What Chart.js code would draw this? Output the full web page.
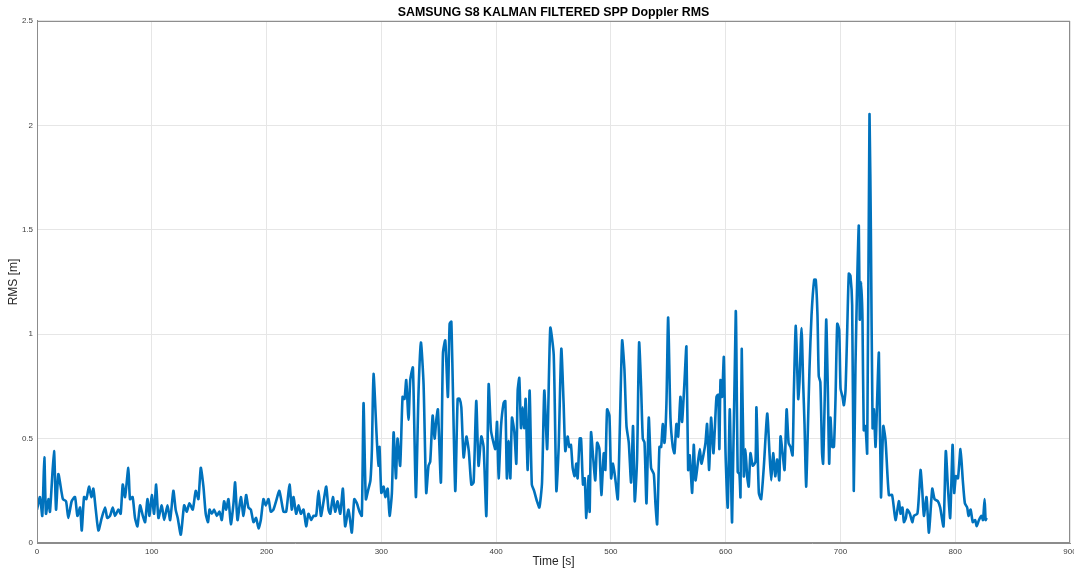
<!DOCTYPE html>
<html>
<head>
<meta charset="utf-8">
<script src="https://cdn.jsdelivr.net/npm/chart.js@4/dist/chart.umd.min.js"></script>
<style>
html,body{margin:0;padding:0;background:#fff;}
#wrap{width:1074px;height:571px;position:relative;}
</style>
</head>
<body>
<div id="wrap"><canvas id="c" width="1074" height="571"></canvas></div>
<script>
const chartTitle = "SAMSUNG S8 KALMAN FILTERED SPP Doppler RMS";
const xTitle = "Time [s]";
const yTitle = "RMS [m]";
const xTicks = [0,100,200,300,400,500,600,700,800,900];
const yTicks = [0,0.5,1,1.5,2,2.5];

const times = [
0,2.6,4.6,6.4,7.8,9.9,11.3,14.8,16.6,18.6,21.5,22.6,25.3,27.3,30.2,33.1,35.2,37.5,39,41,43,45.3,47.4,49.1,51.2,53.5,56.4,59.3,61.2,63.6,66,68,70.9,72.9,74.7,76.7,79.6,81,83.3,85.4,87.5,89.8,92.2,94.2,96.2,98,100,102,103.8,105.8,108.7,110.8,113.7,116,118.8,120.8,122.6,125.3,128.2,130.5,132.8,135.7,138.3,140.6,142.7,145,147,149,
150.3,152.3,154.3,156.7,159,161,163,164.8,166.8,168.9,171.2,172.6,174.7,177.6,179.9,182.2,184.2,186.3,188.6,190.9,193,195,197.3,199.3,201.7,203.7,206,208.3,211,212.7,214.8,217.1,220,222,223.5,225.8,227.9,229.9,232.2,234.5,236.5,238.9,240.9,243.2,245.3,247.4,249.7,252,254,255.5,257.8,259.8,261.9,264.2,266.5,268.5,271.4,274.3,276.4,278.7,281,283,284.5,286.5,288.8,290.5,291.8,293.2,296.2,297.6,298.4,
300,302,303.5,305.5,307.2,309.2,310.7,312.7,314.1,316.4,318.5,320.2,321.7,323.7,325.2,327.5,330.1,332.4,334.5,336.8,339.1,341.1,342.6,344.7,346.4,347.9,349.3,351.9,353.7,355.7,358,359.5,361,364.4,366.5,368.2,369.7,371.7,374.1,376.2,378.4,380.4,382.7,384.7,387.1,389.1,391.5,393.5,395.5,397.3,399.3,
400.8,402.2,404.3,406.5,408,409.4,410.9,412.4,413.8,415.9,417.6,418.8,420.2,421.7,423.1,424.6,425.7,427.5,429.2,431.1,433.1,435.6,437.7,440,442,444.5,447.2,450.2,452.5,454.5,456.8,458.8,460.3,462.3,463.8,465.2,466.7,468.4,469.9,471,472.8,474,475.7,477.2,478.6,480.6,481.5,482.7,484.4,486.4,488,490,491.7,493.8,495.2,496.7,498.7,
500.2,501.9,504,506,507.7,509.8,511.8,513.6,515.6,517.6,519.3,520.8,522.8,524.6,526.3,527.8,529.3,531,533,535,537.4,538.8,540.3,542.3,543.8,545.2,546.7,548.4,549.9,551.9,553.9,555.4,557.1,558.6,560.6,562,564.1,565.8,567.3,568.7,570.8,572.2,573.7,575.7,577.5,578.9,580.9,582.4,583.8,585.6,587.3,589.3,590.5,592,593.5,594.5,595.5,596.9,598.4,599.9,
601.8,603.6,605.6,608.8,610.5,612,612.9,614,615.8,617.2,618.7,620.1,621.6,623.6,626,626.8,628.9,630.9,633.3,636.2,638.2,639.7,641.4,643.2,644.9,646.7,647.8,649.6,651.3,653.1,654.8,656.5,658.3,659.4,661.1,663.2,664.3,666.1,667.5,668.7,670.1,671.6,673,674.8,677.1,678.5,680,681.1,682.5,684,684.9,686.3,687.6,689,690.2,691.3,692.8,694.3,695.7,697.2,698.9,
700.1,701.8,703,704.4,705.9,707.3,708.7,710.2,711.6,713.1,714.5,716,716.8,718,719.2,720.3,721.8,723.3,725.3,726.5,728,729.1,730.6,732,733.5,735.3,737.3,739.3,742.2,745,748,750.9,752.4,754,755.3,757,758.2,760.5,762.6,764,767,768.4,769.8,771.3,772.7,775,777.1,780,782,784.9,786.9,789.8,791.8,793.6,795.6,797.7,799.1,
800.6,802.4,804.6,806.6,808.4,810.4,811.6,813.4,815.3,817.4,818.7,820.7,822.8,824.2,825.6,826.5,827.4
];

const rms = [
.16,.22,.13,.41,.14,.21,.15,.44,.16,.33,.24,.21,.20,.12,.20,.22,.13,.17,.06,.22,.21,.27,.22,.26,.16,.06,.12,.17,.12,.13,.17,.13,.16,.14,.28,.22,.36,.21,.22,.12,.08,.18,.13,.10,.21,.13,.23,.14,.28,.12,.18,.11,.18,.11,.25,.16,.12,.04,.18,.15,.19,.16,.25,.21,.36,.27,.14,.10,
.16,.14,.16,.13,.15,.11,.20,.16,.21,.09,.19,.29,.11,.22,.13,.23,.17,.16,.10,.12,.07,.11,.21,.18,.21,.15,.16,.20,.25,.21,.15,.15,.28,.16,.22,.14,.18,.14,.16,.08,.14,.11,.13,.13,.25,.13,.20,.27,.16,.14,.22,.15,.20,.14,.26,.08,.16,.05,.21,.19,.15,.13,.67,.21,.26,.30,.45,.81,.48,.37,.46,
.24,.27,.22,.26,.13,.24,.53,.31,.50,.37,.70,.69,.78,.59,.78,.84,.22,.72,.96,.76,.24,.37,.39,.61,.50,.59,.64,.29,.91,.97,.70,1.05,1.06,.25,.69,.69,.65,.41,.51,.44,.28,.29,.68,.37,.51,.46,.13,.76,.54,.49,.45,
.58,.31,.56,.67,.68,.31,.49,.31,.60,.53,.38,.73,.79,.55,.65,.55,.69,.35,.73,.28,.25,.20,.17,.29,.73,.45,1.03,.90,.25,.46,.93,.67,.44,.51,.46,.47,.36,.32,.38,.31,.50,.50,.28,.31,.12,.32,.15,.53,.42,.30,.48,.45,.23,.43,.35,.64,.61,
.31,.38,.30,.21,.53,.97,.83,.56,.48,.29,.56,.20,.40,.96,.75,.50,.48,.19,.60,.36,.33,.19,.09,.46,.46,.57,.48,.67,1.08,.60,.46,.43,.57,.51,.70,.58,.77,.94,.35,.42,.24,.47,.30,.38,.45,.38,.43,.48,.57,.35,.60,.43,.54,.70,.71,.45,.78,.70,.89,.43,
.17,.64,.10,1.11,.34,.33,.22,.93,.32,.45,.32,.27,.43,.37,.39,.65,.24,.21,.37,.62,.43,.30,.43,.32,.40,.30,.51,.43,.35,.64,.48,.46,.42,.72,1.04,.69,.77,1.03,.77,.57,.27,.54,.83,1.09,1.26,1.26,1.09,.80,.77,.43,.38,.69,1.07,.74,.38,.60,.46,.46,.69,1.05,1.02,
.74,.70,.66,.73,1.02,1.29,1.28,1.14,.25,.85,1.23,1.52,1.07,1.25,1.07,.54,.56,.43,2.05,1.5,.55,.64,.46,.69,.91,.22,.56,.49,.23,.23,.11,.20,.14,.17,.10,.12,.16,.14,.10,.13,.14,.23,.35,.25,.13,.22,.05,.26,.21,.20,.17,.08,.44,.27,.12,.47,.24,
.32,.31,.45,.30,.19,.17,.13,.16,.10,.11,.08,.11,.13,.11,.21,.11,.12
];

const points = times.map((t, i) => ({x: t, y: rms[i]}));

const boxPlugin = {
  id: 'box',
  afterDraw(chart) {
    const {ctx, chartArea: a} = chart;
    ctx.save();
    ctx.strokeStyle = '#8c8c8c';
    ctx.lineWidth = 1;
    ctx.strokeRect(a.left + 0.5, a.top + 0.5, a.right - a.left - 1, a.bottom - a.top - 1);
    ctx.restore();
  }
};

const FONT = 'Liberation Sans, Arial, sans-serif';

new Chart(document.getElementById('c'), {
  type: 'line',
  data: {
    datasets: [{
      data: points,
      borderColor: '#0072BD',
      backgroundColor: '#0072BD',
      borderWidth: 2.6,
      pointRadius: 0,
      tension: 0.2,
      fill: false
    }]
  },
  options: {
    responsive: false,
    animation: false,
    devicePixelRatio: 1,
    layout: { padding: { left: 0, right: 4, top: 0, bottom: 0 } },
    plugins: {
      legend: { display: false },
      tooltip: { enabled: false },
      title: {
        display: true,
        fullSize: false,
        text: chartTitle,
        color: '#000',
        font: { family: FONT, size: 12.4, weight: 'bold', lineHeight: 1.2 },
        padding: { top: 5, bottom: 1.1 }
      }
    },
    scales: {
      x: {
        type: 'linear',
        min: 0, max: 900,
        afterBuildTicks(scale) { scale.ticks = xTicks.map(v => ({value: v})); },
        afterFit(scale) { scale.height = 28; scale.paddingRight = 0; scale.paddingLeft = 0; },
        grid: { color: '#e6e6e6', drawTicks: false, lineWidth: 1 },
        border: { color: '#8c8c8c', width: 1 },
        ticks: {
          color: '#404040',
          padding: 4,
          maxRotation: 0,
          font: { family: FONT, size: 8 }
        },
        title: {
          display: true,
          text: xTitle,
          color: '#262626',
          padding: { top: 0, bottom: 2 },
          font: { family: FONT, size: 12, lineHeight: 1.2 }
        }
      },
      y: {
        type: 'linear',
        min: 0, max: 2.5,
        afterBuildTicks(scale) { scale.ticks = yTicks.map(v => ({value: v})); },
        afterFit(scale) { scale.width = 37; scale.paddingTop = 0; scale.paddingBottom = 0; },
        grid: { color: '#e6e6e6', drawTicks: false, lineWidth: 1 },
        border: { color: '#8c8c8c', width: 1 },
        ticks: {
          color: '#404040',
          padding: 4,
          font: { family: FONT, size: 8 },
          callback: (v) => String(v)
        },
        title: {
          display: true,
          text: yTitle,
          color: '#262626',
          padding: { top: 6, bottom: 0 },
          font: { family: FONT, size: 12, lineHeight: 1.2 }
        }
      }
    }
  },
  plugins: [boxPlugin]
});
</script>
</body>
</html>
